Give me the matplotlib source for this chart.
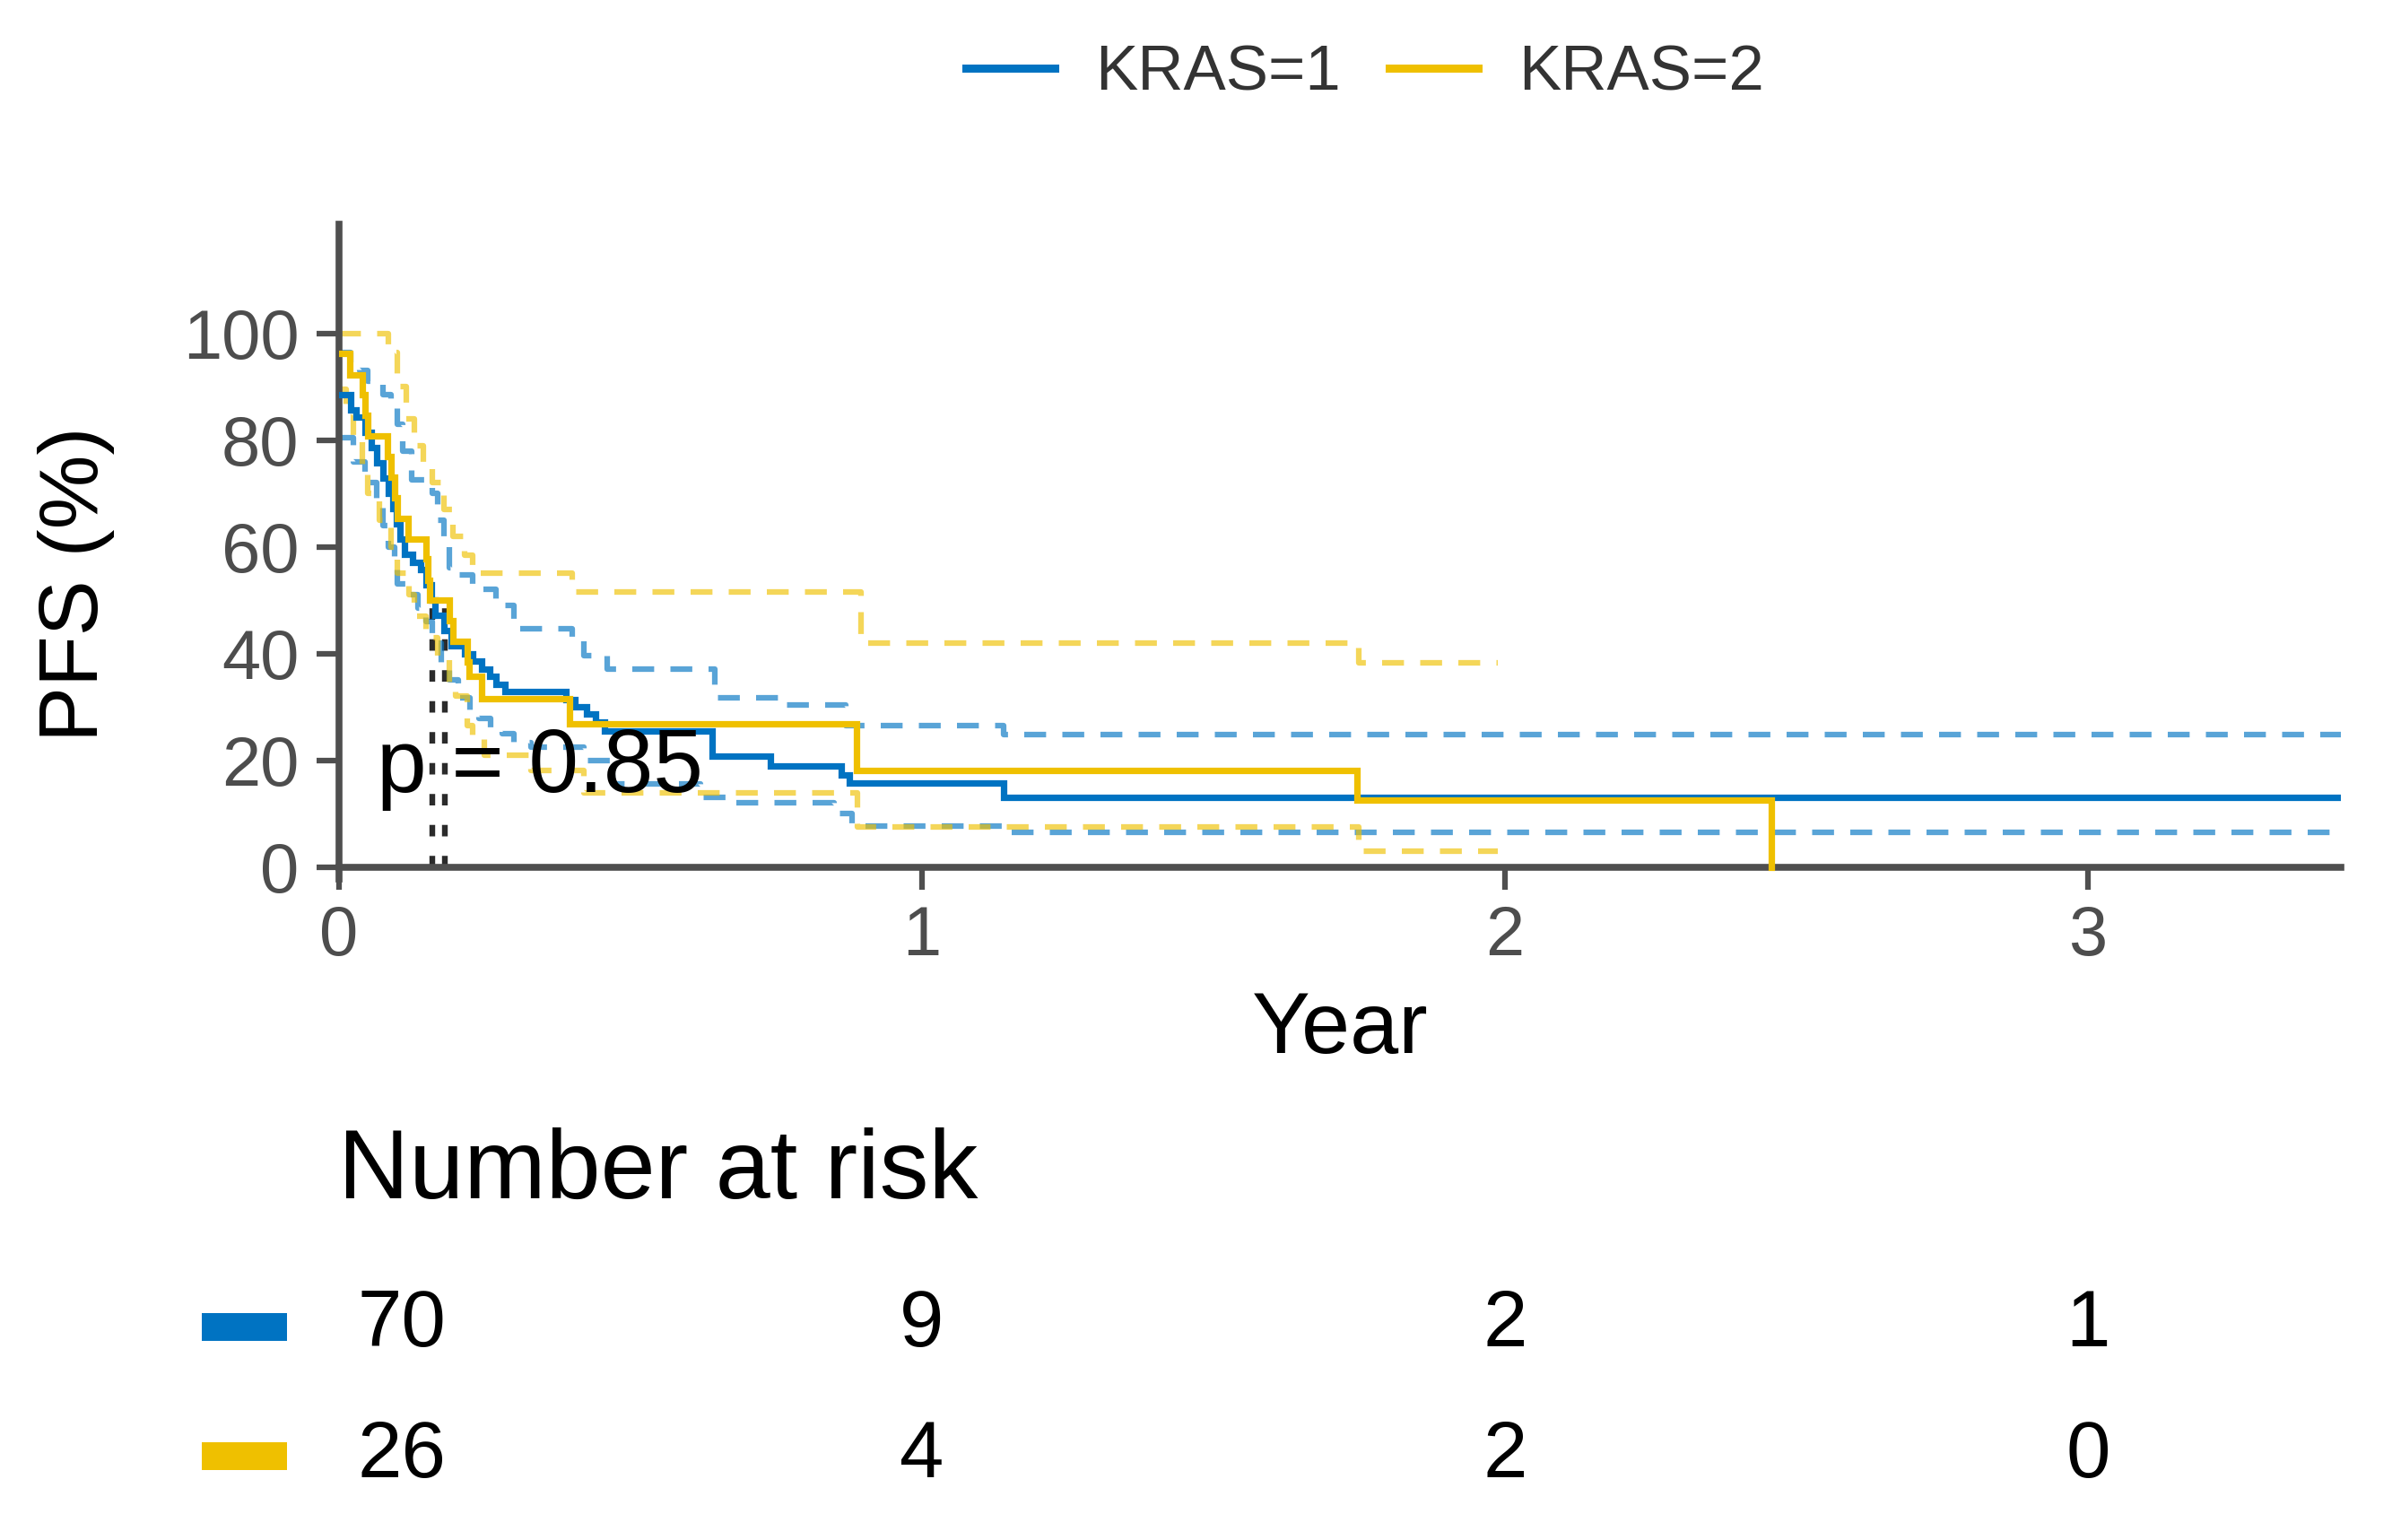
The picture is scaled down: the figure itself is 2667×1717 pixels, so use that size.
import matplotlib
matplotlib.use("Agg")
import matplotlib.pyplot as plt
from matplotlib.patches import Rectangle
from matplotlib.transforms import blended_transform_factory, offset_copy

plt.rcParams['font.family'] = ['Liberation Sans', 'DejaVu Sans']

# ---------------- data ----------------
groups = ["KRAS=1", "KRAS=2"]
colors = ["#0073C2", "#EFC000"]

# KRAS=1 Kaplan-Meier estimate (%), step-post
t1 = [0.000, 0.020, 0.030, 0.045, 0.055, 0.065, 0.075, 0.085, 0.092, 0.098,
      0.105, 0.113, 0.126, 0.140, 0.150, 0.158, 0.165, 0.180, 0.192, 0.215,
      0.230, 0.245, 0.258, 0.270, 0.285, 0.390, 0.405, 0.425, 0.440, 0.455,
      0.640, 0.740, 0.862, 0.875, 1.140, 3.434]
s1 = [88.6, 85.7, 84.3, 81.4, 78.6, 75.7, 72.9, 70.0, 67.1, 64.3,
      61.4, 58.6, 57.1, 55.7, 52.9, 50.0, 47.1, 44.3, 41.4, 40.0,
      38.6, 37.1, 35.7, 34.3, 32.9, 31.4, 30.0, 28.6, 27.1, 25.4,
      20.8, 18.9, 17.3, 15.7, 13.0, 13.0]
up1_t = [0.000, 0.020, 0.035, 0.050, 0.075, 0.090, 0.100, 0.110, 0.125, 0.160,
         0.170, 0.180, 0.190, 0.200, 0.230, 0.270, 0.300, 0.400, 0.420, 0.460,
         0.645, 0.765, 0.870, 1.140, 3.434]
up1_s = [96.5, 94.5, 93.0, 91.0, 88.5, 86.0, 83.0, 78.0, 72.5, 70.0,
         65.0, 60.0, 56.0, 54.8, 52.0, 49.0, 44.7, 43.0, 39.6, 37.0,
         31.7, 30.3, 26.5, 24.8, 24.8]
lo1_t = [0.000, 0.025, 0.045, 0.065, 0.075, 0.085, 0.095, 0.100, 0.120, 0.135,
         0.150, 0.160, 0.175, 0.190, 0.205, 0.225, 0.240, 0.260, 0.280, 0.300,
         0.330, 0.420, 0.470, 0.620, 0.670, 0.850, 0.880, 1.140, 3.434]
lo1_s = [80.5, 76.0, 72.0, 68.0, 64.0, 60.0, 56.0, 53.0, 51.0, 48.5,
         46.0, 42.0, 38.0, 35.0, 31.7, 29.0, 27.8, 26.0, 25.0, 23.3,
         22.5, 20.0, 15.5, 13.0, 12.1, 10.0, 7.7, 6.4, 6.4]

# KRAS=2 Kaplan-Meier estimate (%), step-post
t2 = [0.000, 0.018, 0.040, 0.045, 0.050, 0.083, 0.090, 0.095, 0.100, 0.118,
      0.150, 0.152, 0.155, 0.190, 0.195, 0.220, 0.223, 0.245, 0.395, 0.888,
      1.746, 2.457]
s2 = [96.2, 92.3, 88.5, 84.6, 80.8, 76.9, 73.1, 69.2, 65.4, 61.5,
      57.7, 53.8, 50.0, 46.2, 42.3, 38.5, 35.7, 31.5, 26.9, 18.0,
      12.6, 0.0]
up2_t = [0.000, 0.085, 0.100, 0.115, 0.130, 0.145, 0.160, 0.180, 0.195, 0.215,
         0.230, 0.400, 0.895, 1.750, 1.988]
up2_s = [100.0, 96.5, 90.0, 84.0, 79.0, 75.0, 72.0, 67.0, 62.0, 58.5,
         55.0, 51.5, 42.0, 38.3, 38.3]
lo2_t = [0.000, 0.012, 0.025, 0.040, 0.050, 0.070, 0.090, 0.100, 0.120, 0.130,
         0.150, 0.170, 0.190, 0.200, 0.220, 0.230, 0.250, 0.330, 0.420, 0.890,
         1.750, 1.988]
lo2_s = [89.5, 85.0, 80.0, 75.0, 70.0, 65.0, 60.0, 55.0, 51.0, 47.0,
         43.0, 39.0, 34.0, 32.0, 26.5, 24.0, 21.0, 18.0, 13.8, 7.5,
         3.0, 3.0]

median_times = [0.160, 0.182]
p_label = "p = 0.85"

risk_times = [0, 1, 2, 3]
risk_kras1 = [70, 9, 2, 1]
risk_kras2 = [26, 4, 2, 0]

x_ticks = [0, 1, 2, 3]
y_ticks = [0, 20, 40, 60, 80, 100]

# ---------------- figure ----------------
fig = plt.figure(figsize=(26.67, 17.17), dpi=100)
ax = fig.add_axes([0.1417, 0.4291, 0.8369, 0.4254])

axis_col = "#4F4F4F"
tick_col = "#4D4D4D"

# median lines
ax.vlines(median_times, 0, 50, colors="#2B2B2B", linewidth=4.6,
          linestyles=[(0, (2.0, 3.4))], zorder=1)

dash = (0, (3.9, 2.9))
curves = [(t1, s1, up1_t, up1_s, lo1_t, lo1_s), (t2, s2, up2_t, up2_s, lo2_t, lo2_s)]
handles = []
for (tt, ss, ut, us, lt, ls), col, lab in zip(curves, colors, groups):
    ax.step(ut, us, where="post", color=col, lw=4.5, alpha=0.65, linestyle=dash, zorder=2)
    ax.step(lt, ls, where="post", color=col, lw=4.5, alpha=0.65, linestyle=dash, zorder=2)
    h, = ax.step(tt, ss, where="post", color=col, lw=5.2, label=lab, zorder=3,
                 solid_joinstyle="miter")
    handles.append(h)

ax.text(0.0646, 14.05, p_label, fontsize=72, ha="left", va="baseline",
        color="black", zorder=5)

ax.set_xlim(0, 3.434)
ax.set_ylim(-2.3, 120.5)
ax.spines["top"].set_visible(False)
ax.spines["right"].set_visible(False)
ax.spines["bottom"].set_position(("data", 0))
for sp in ("left", "bottom"):
    ax.spines[sp].set_color(axis_col)
    ax.spines[sp].set_linewidth(5.5)
ax.spines["left"].set_bounds(-2.3, 120.5)

ax.set_xticks(x_ticks)
ax.set_xticklabels([str(v) for v in x_ticks])
ax.set_yticks(y_ticks)
ax.set_yticklabels([str(v) for v in y_ticks])
ax.tick_params(axis="both", length=18, width=4.5, color=axis_col,
               labelsize=56, labelcolor=tick_col)
ax.tick_params(axis="x", pad=12)
ax.tick_params(axis="y", pad=14)

ax.set_xlabel("Year", fontsize=70, color="black")
ax.xaxis.set_label_coords(0.5, -0.170)
ax.set_ylabel("PFS (%)", fontsize=67, color="black", va="center", ha="center")
ax.yaxis.set_label_coords(-0.1313, 0.4508)

# legend
fig.legend(handles=handles, labels=groups, loc="center", bbox_to_anchor=(0.5707, 0.952),
           ncol=2, frameon=False, fontsize=51, handlelength=1.4, handletextpad=0.63,
           columnspacing=0.77, borderpad=0, labelcolor="#333333")
leg = fig.legends[0]
for ln in leg.get_lines():
    ln.set_linewidth(6.5)

# risk table
fig.text(377 / 2667, 1 - 1336 / 1717, "Number at risk", fontsize=79, ha="left",
         va="baseline", color="black")
trans = blended_transform_factory(ax.transData, fig.transFigure)
row_y = [1 - 1478 / 1717, 1 - 1624 / 1717]
for vals, yy in zip([risk_kras1, risk_kras2], row_y):
    for i, (tv, n) in enumerate(zip(risk_times, vals)):
        if i == 0:
            tr = offset_copy(trans, fig=fig, x=21, y=0, units="dots")
            ax.text(tv, yy, str(n), transform=tr, fontsize=64, ha="left",
                    va="center", color="black", clip_on=False)
        else:
            ax.text(tv, yy, str(n), transform=trans, fontsize=64, ha="center",
                    va="center", color="black", clip_on=False)

key_y = [1 - 1495 / 1717, 1 - 1639 / 1717]
for col, yy in zip(colors, key_y):
    fig.patches.append(Rectangle((225 / 2667, yy), 95 / 2667, 31 / 1717,
                                 transform=fig.transFigure, facecolor=col,
                                 edgecolor="none"))

fig.savefig("out.png", dpi=100)
